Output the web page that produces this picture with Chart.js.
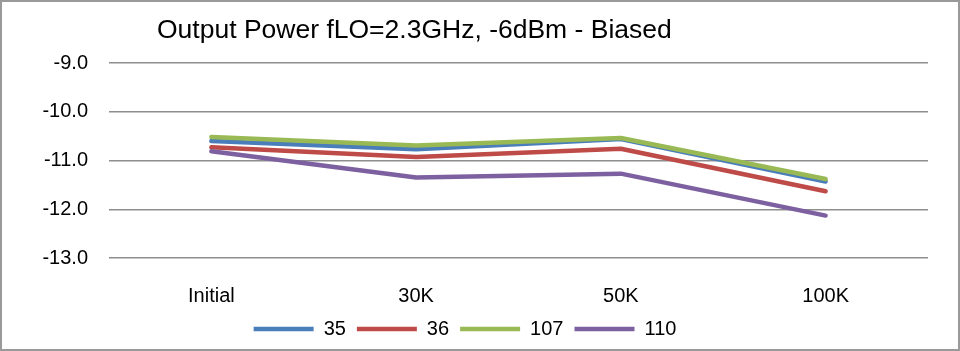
<!DOCTYPE html>
<html>
<head>
<meta charset="utf-8">
<script src="https://cdn.jsdelivr.net/npm/chart.js@4.4.0/dist/chart.umd.min.js"></script>
<style>
  html, body { margin: 0; padding: 0; background: #fff; }
  #wrap { width: 960px; height: 351px; box-sizing: border-box; border: 2px solid #9a9a9a; position: relative; }
  canvas { display: block; }
</style>
</head>
<body>
<div id="wrap"><canvas id="powerChart" width="956" height="347"></canvas></div>
<script>
// Datos del gráfico
const categorias = ["Initial", "30K", "50K", "100K"];
const serie35 = [-10.60, -10.77, -10.56, -11.43];
const serie36 = [-10.73, -10.93, -10.76, -11.63];
const serie107 = [-10.52, -10.69, -10.54, -11.38];
const serie110 = [-10.81, -11.35, -11.27, -12.13];
const titulo = "Output Power fLO=2.3GHz, -6dBm - Biased";

Chart.defaults.font.family = "'Liberation Sans', Arial, sans-serif";
Chart.defaults.color = "#000";

// Título dibujado a mano (no está centrado en el original)
const tituloPlugin = {
  id: "tituloPlugin",
  afterDraw(chart) {
    const ctx = chart.ctx;
    ctx.save();
    ctx.font = "26.5px 'Liberation Sans', Arial, sans-serif";
    ctx.fillStyle = "#000";
    ctx.textBaseline = "alphabetic";
    ctx.textAlign = "left";
    ctx.fillText(titulo, 155, 36);
    ctx.restore();
  }
};

function serie(label, data, color, order) {
  return {
    label: label,
    data: data,
    borderColor: color,
    backgroundColor: color,
    borderWidth: 4.5,
    borderCapStyle: "round",
    borderJoinStyle: "round",
    pointRadius: 0,
    tension: 0,
    order: order
  };
}

const ctx = document.getElementById("powerChart").getContext("2d");
const chart = new Chart(ctx, {
  type: "line",
  data: {
    labels: categorias,
    datasets: [
      serie("35", serie35, "#4a7ebb", 4),
      serie("36", serie36, "#be4b48", 3),
      serie("107", serie107, "#98b954", 2),
      serie("110", serie110, "#7d60a0", 1)
    ]
  },
  plugins: [tituloPlugin],
  options: {
    responsive: false,
    animation: false,
    layout: { padding: { top: 61, right: 30, bottom: 0, left: 0 } },
    plugins: {
      title: { display: false },
      tooltip: { enabled: false },
      legend: {
        position: "bottom",
        reverse: true,
        maxHeight: 50,
        labels: {
          usePointStyle: true,
          pointStyle: "line",
          pointStyleWidth: 60,
          padding: 11,
          font: { size: 20 },
          color: "#000"
        }
      }
    },
    scales: {
      x: {
        offset: true,
        afterFit: function(scale) { scale.height = 50; },
        grid: { display: false },
        border: { display: false },
        ticks: { padding: 18, font: { size: 20 }, color: "#000" }
      },
      y: {
        min: -13,
        max: -9,
        afterFit: function(scale) { scale.width = 107; },
        grid: { color: "#8e8e8e", lineWidth: 1.5, drawTicks: false },
        border: { display: false },
        ticks: {
          stepSize: 1,
          padding: 21,
          font: { size: 20 },
          color: "#000",
          callback: function(v) { return Number(v).toFixed(1); }
        }
      }
    }
  }
});
</script>
</body>
</html>
